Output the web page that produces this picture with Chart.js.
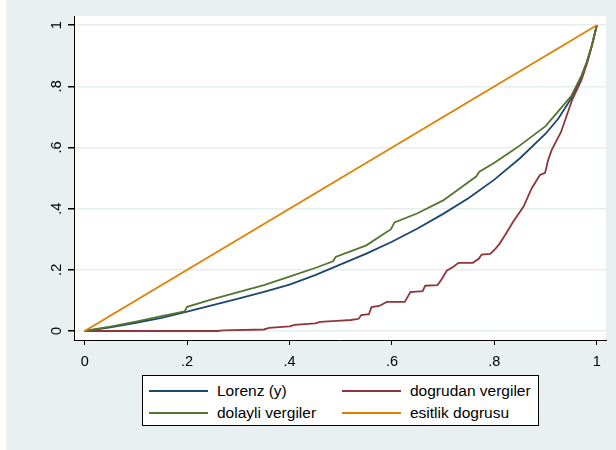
<!DOCTYPE html>
<html>
<head>
<meta charset="utf-8">
<script src="https://cdn.jsdelivr.net/npm/chart.js@4"></script>
<style>
  body { margin: 0; background: #fff; }
  #wrap { position: relative; width: 616px; height: 450px; }
  #bg { position: absolute; left: 6px; top: 0; width: 610px; height: 450px; background: #e8f0f2; }
  canvas { position: absolute; left: 0; top: 0; }
  #legend {
    position: absolute; left: 142px; top: 375px; width: 395px; height: 49px;
    border: 1px solid #000; background: #fff;
    font-family: "Liberation Sans", Arial, sans-serif; font-size: 15.5px; color: #000;
  }
  .item { position: absolute; height: 20px; line-height: 20px; white-space: nowrap; }
  .item i { position: absolute; left: 0; top: 9px; width: 59px; height: 2px; }
  .item span { position: absolute; left: 68px; top: 0; }
</style>
</head>
<body>
<div id="wrap">
  <div id="bg"></div>
  <canvas id="chart" width="616" height="450"></canvas>
  <div id="legend"></div>
</div>
<script>
// tick values and labels
const tickValues = [0, 0.2, 0.4, 0.6, 0.8, 1];
const tickLabels = ["0", ".2", ".4", ".6", ".8", "1"];

// Lorenz (y)
const lorenzX = [0, 0.05, 0.1, 0.15, 0.2, 0.25, 0.3, 0.35, 0.4, 0.45, 0.5, 0.55, 0.6, 0.65, 0.7, 0.75, 0.8, 0.85, 0.9, 0.925, 0.95, 0.97, 0.98, 0.99, 1];
const lorenzY = [0, 0.012, 0.027, 0.043, 0.063, 0.085, 0.106, 0.128, 0.152, 0.183, 0.218, 0.253, 0.292, 0.335, 0.383, 0.435, 0.495, 0.565, 0.645, 0.695, 0.76, 0.83, 0.875, 0.93, 1];

// dogrudan vergiler
const dogrudanX = [0, 0.26, 0.27, 0.35, 0.36, 0.40, 0.41, 0.45, 0.46, 0.50, 0.52, 0.535, 0.54, 0.555, 0.56, 0.575, 0.59, 0.625, 0.636, 0.66, 0.665, 0.689, 0.697, 0.707, 0.72, 0.73, 0.758, 0.77, 0.775, 0.792, 0.80, 0.81, 0.821, 0.837, 0.857, 0.873, 0.889, 0.899, 0.905, 0.912, 0.93, 0.952, 0.97, 0.983, 0.993, 1];
const dogrudanY = [0, 0, 0.002, 0.005, 0.01, 0.015, 0.02, 0.025, 0.03, 0.034, 0.036, 0.04, 0.052, 0.055, 0.078, 0.082, 0.095, 0.095, 0.127, 0.13, 0.148, 0.15, 0.169, 0.197, 0.21, 0.223, 0.223, 0.237, 0.25, 0.252, 0.265, 0.285, 0.314, 0.358, 0.407, 0.467, 0.51, 0.517, 0.559, 0.592, 0.65, 0.756, 0.82, 0.886, 0.95, 1];

// dolayli vergiler
const dolayliX = [0, 0.05, 0.1, 0.15, 0.195, 0.2, 0.25, 0.3, 0.35, 0.4, 0.45, 0.485, 0.49, 0.55, 0.598, 0.605, 0.65, 0.7, 0.765, 0.77, 0.8, 0.837, 0.85, 0.9, 0.95, 0.97, 0.98, 0.99, 1];
const dolayliY = [0, 0.014, 0.031, 0.049, 0.064, 0.079, 0.104, 0.127, 0.15, 0.178, 0.206, 0.228, 0.242, 0.28, 0.333, 0.355, 0.385, 0.427, 0.506, 0.52, 0.55, 0.592, 0.607, 0.67, 0.768, 0.835, 0.878, 0.933, 1];

// esitlik dogrusu
const esitlikX = [0, 1];
const esitlikY = [0, 1];

const series = [
  { label: "Lorenz (y)", xs: lorenzX, ys: lorenzY, color: "#1a476f", order: 4 },
  { label: "dogrudan vergiler", xs: dogrudanX, ys: dogrudanY, color: "#90353b", order: 3 },
  { label: "dolayli vergiler", xs: dolayliX, ys: dolayliY, color: "#55752f", order: 2 },
  { label: "esitlik dogrusu", xs: esitlikX, ys: esitlikY, color: "#e37e00", order: 1 },
];

const toPoints = (xs, ys) => xs.map((x, i) => ({ x, y: ys[i] }));

// plot region white
const plotBg = {
  id: "plotBg",
  beforeDraw(chart) {
    const { ctx, chartArea: a } = chart;
    ctx.save();
    ctx.fillStyle = "#fff";
    ctx.fillRect(a.left, a.top, a.right - a.left, a.bottom - a.top);
    ctx.restore();
  }
};

const fixedTicks = scale => {
  scale.ticks = tickValues.map(v => ({ value: v }));
};
const tickText = v => {
  const i = tickValues.findIndex(t => Math.abs(t - v) < 1e-9);
  return i >= 0 ? tickLabels[i] : "";
};

const font = { family: "'Liberation Sans', Arial, sans-serif", size: 14.5 };

new Chart(document.getElementById("chart"), {
  type: "scatter",
  data: {
    datasets: series.map(s => ({
      label: s.label,
      data: toPoints(s.xs, s.ys),
      showLine: true,
      borderColor: s.color,
      borderWidth: 1.8,
      pointRadius: 0,
      tension: 0,
      order: s.order,
    })),
  },
  options: {
    responsive: false,
    animation: false,
    layout: { padding: { left: 0, right: 10, top: 16, bottom: 80 } },
    plugins: { legend: { display: false }, tooltip: { enabled: false } },
    scales: {
      x: {
        type: "linear",
        min: -0.0209,
        max: 1.018,
        afterBuildTicks: fixedTicks,
        afterFit: s => { s.height = 30; },
        grid: { drawOnChartArea: false, drawTicks: true, tickLength: 5, tickColor: "#000" },
        border: { color: "#000", width: 1 },
        ticks: { callback: tickText, color: "#000", font, padding: 8, maxRotation: 0, minRotation: 0 },
      },
      y: {
        type: "linear",
        min: -0.0294,
        max: 1.030,
        afterBuildTicks: fixedTicks,
        afterFit: s => { s.width = 74; },
        grid: { color: "#e6eef0", lineWidth: 1.5, drawTicks: true, tickLength: 6, tickColor: "#000" },
        border: { color: "#000", width: 1 },
        ticks: { callback: tickText, color: "#000", font, padding: 5, minRotation: 90, maxRotation: 90, crossAlign: "center" },
      },
    },
  },
  plugins: [plotBg],
});

// legend in two columns
const legend = document.getElementById("legend");
const pos = [[6, 5], [199, 5], [6, 27], [199, 27]];
series.forEach((s, i) => {
  const d = document.createElement("div");
  d.className = "item";
  d.style.left = pos[i][0] + "px";
  d.style.top = pos[i][1] + "px";
  d.innerHTML = `<i style="background:${s.color}"></i><span>${s.label}</span>`;
  legend.appendChild(d);
});
</script>
</body>
</html>
